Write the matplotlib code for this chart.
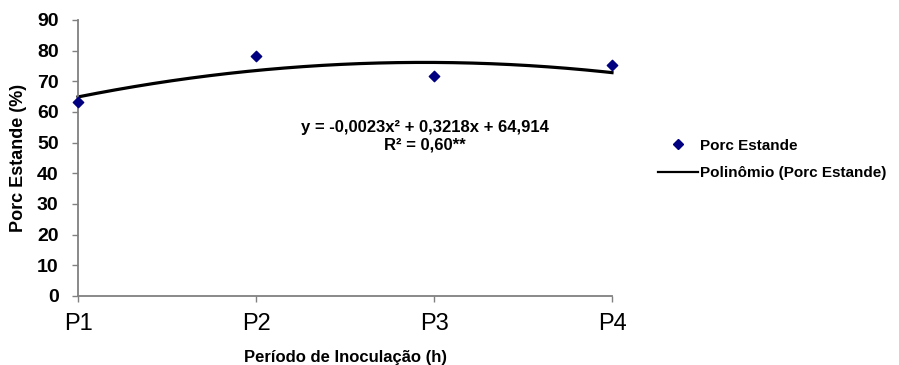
import numpy as np
from matplotlib import pyplot as plt
from matplotlib.lines import Line2D

# dados
periodos = ["P1", "P2", "P3", "P4"]
horas = [0, 36, 72, 108]
porc_estande = [63.4, 78.4, 71.7, 75.2]
coef = [-0.0023, 0.3218, 64.914]  # polinomio de 2o grau (x em horas)

plt.rcParams['font.family'] = ['Liberation Sans', 'DejaVu Sans']

fig = plt.figure(figsize=(8.99, 3.65), dpi=100)
ax = fig.add_axes([78/899, 1-296/365, (612-78)/899, (296-20)/365])

pos = np.arange(len(periodos))
ax.scatter(pos, porc_estande, marker="D", s=28, color="#000080", zorder=3,
           clip_on=False)

# curva de tendencia
xh = np.linspace(horas[0], horas[-1], 200)
yh = np.polyval(coef, xh)
xp = np.interp(xh, horas, pos)
ax.plot(xp, yh, color="black", lw=2.3, clip_on=False)

ax.set_xlim(0, 3)
ax.set_ylim(0, 90)
ax.set_yticks(range(0, 91, 10))
ax.set_xticks(pos)
ax.set_xticklabels(periodos, fontsize=17)
ax.tick_params(axis="y", labelsize=14, colors="#808080", length=4, width=1, pad=10)
ax.tick_params(axis="x", colors="#808080", length=4, width=1, pad=8)
for lab in ax.get_yticklabels():
    lab.set_fontweight("bold")
    lab.set_color("black")
for lab in ax.get_xticklabels():
    lab.set_color("black")

for s in ["top", "right"]:
    ax.spines[s].set_visible(False)
for s in ["left", "bottom"]:
    ax.spines[s].set_color("#808080")
    ax.spines[s].set_linewidth(1.3)

ax.set_ylabel("Porc Estande (%)", fontsize=13, fontweight="bold", labelpad=7)
ax.set_xlabel("Período de Inoculação (h)", fontsize=12, fontweight="bold", labelpad=11)

ax.text(1.95, 52, "y = -0,0023x² + 0,3218x + 64,914\nR² = 0,60**",
        ha="center", va="center", fontsize=12, fontweight="bold",
        linespacing=1.2)

handles = [
    Line2D([], [], ls="none", marker="D", ms=5, color="#000080"),
    Line2D([], [], color="black", lw=1.6),
]
ax.legend(handles, ["Porc Estande", "Polinômio (Porc Estande)"],
          loc="center left", bbox_to_anchor=(1.06, 0.495), frameon=False,
          prop={"size": 11, "weight": "bold"}, handlelength=2.6,
          handletextpad=0.15, labelspacing=0.9)

plt.savefig("out.png", dpi=100)
